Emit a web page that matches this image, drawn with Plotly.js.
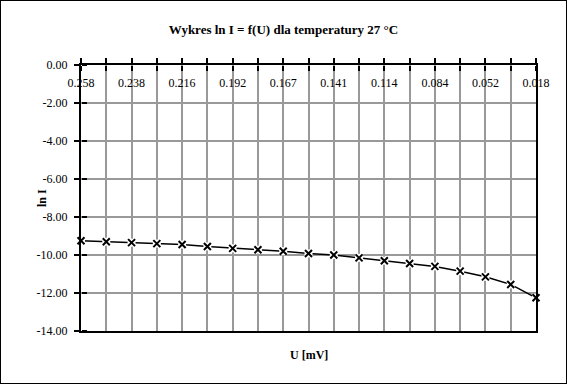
<!DOCTYPE html>
<html>
<head>
<meta charset="utf-8">
<script src="https://cdn.plot.ly/plotly-3.0.1.min.js"></script>
<style>
  html, body { margin: 0; padding: 0; background: #fff; }
  #chart { width: 565px; height: 382px; border: 1px solid #000; }
</style>
</head>
<body>
<div id="chart"></div>
<script>
// U [mV] categories (every other one is labeled in the reference)
const U = ['0.258','0.248','0.238','0.227','0.216','0.204','0.192','0.180','0.167','0.154',
           '0.141','0.128','0.114','0.099','0.084','0.068','0.052','0.035','0.018'];
// ln I values
const lnI = [-9.25,-9.30,-9.35,-9.40,-9.45,-9.55,-9.65,-9.72,-9.80,-9.92,
             -10.00,-10.15,-10.30,-10.45,-10.60,-10.85,-11.15,-11.55,-12.25];
// tick labels shown on the category axis
const xTickText = ['0.258','','0.238','','0.216','','0.192','','0.167','',
                   '0.141','','0.114','','0.084','','0.052','','0.018'];
const yTickVals = [0,-2,-4,-6,-8,-10,-12,-14];
const yTickText = ['0.00','-2.00','-4.00','-6.00','-8.00','-10.00','-12.00','-14.00'];

const FONT = 'Liberation Serif, Times New Roman, serif';
const GRID = '#999999';

const traces = [
  { x: U, y: lnI, type: 'scatter', mode: 'lines+markers', xaxis: 'x', yaxis: 'y',
    line: { color: '#000', width: 1.5 },
    marker: { symbol: 'square', size: 8, color: '#fff', line: { width: 0 } },
    cliponaxis: false, hoverinfo: 'skip', showlegend: false },
  { x: U, y: lnI, type: 'scatter', mode: 'markers', xaxis: 'x', yaxis: 'y',
    marker: { symbol: 'x-thin', size: 7, color: '#000', line: { color: '#000', width: 2 } },
    cliponaxis: false, hoverinfo: 'skip', showlegend: false },
  // carrier trace for the overlay axes (the inner halves of the crossing ticks)
  { x: U, y: lnI, type: 'scatter', mode: 'markers', xaxis: 'x2', yaxis: 'y2',
    marker: { opacity: 0, size: 1 }, hoverinfo: 'skip', showlegend: false }
];

const layout = {
  width: 565, height: 382,
  margin: { l: 80, r: 30, t: 64, b: 52, pad: 0 },
  paper_bgcolor: '#fff', plot_bgcolor: '#fff',
  font: { family: FONT, color: '#000', size: 12 },
  title: { text: '<b>Wykres ln I = f(U) dla temperatury 27 °C</b>',
           font: { family: FONT, size: 13, color: '#000' },
           x: 0.5, xref: 'container', xanchor: 'center',
           y: 1 - 28/382, yref: 'container', yanchor: 'middle' },
  xaxis: {
    type: 'category', categoryarray: U, categoryorder: 'array', range: [0, 18],
    side: 'top', anchor: 'y',
    showline: true, linecolor: '#000', linewidth: 2, mirror: true,
    ticks: 'outside', ticklen: 5, tickwidth: 2, tickcolor: '#000',
    tickmode: 'array', tickvals: U, showticklabels: false,
    showgrid: true, gridcolor: GRID, gridwidth: 2, zeroline: false, fixedrange: true
  },
  xaxis2: {
    type: 'category', categoryarray: U, categoryorder: 'array', range: [0, 18],
    overlaying: 'x', anchor: 'free', position: 1, side: 'bottom',
    showline: false, showgrid: false, zeroline: false,
    ticks: 'outside', ticklen: 5, tickwidth: 2, tickcolor: '#000',
    tickmode: 'array', tickvals: U, ticktext: xTickText, showticklabels: true,
    ticklabelstandoff: 2,
    tickfont: { family: FONT, size: 12, color: '#000' }
  },
  yaxis: {
    range: [-14, 0], anchor: 'x',
    showline: true, linecolor: '#000', linewidth: 2, mirror: true,
    ticks: 'outside', ticklen: 5, tickwidth: 2, tickcolor: '#000',
    tickmode: 'array', tickvals: yTickVals, ticktext: yTickText,
    tickfont: { family: FONT, size: 12, color: '#000' },
    ticklabelstandoff: 4,
    showgrid: true, gridcolor: GRID, gridwidth: 2, zeroline: false,
    automargin: false
  },
  yaxis2: {
    range: [-14, 0], overlaying: 'y', anchor: 'free', position: 0, side: 'right',
    showline: false, showgrid: false, zeroline: false, showticklabels: false,
    ticks: 'outside', ticklen: 5, tickwidth: 2, tickcolor: '#000',
    tickmode: 'array', tickvals: yTickVals
  },
  annotations: [
    { text: '<b>U [mV]</b>', xref: 'paper', yref: 'paper', x: 0.5, y: -24/266,
      xanchor: 'center', yanchor: 'middle', showarrow: false,
      font: { family: FONT, size: 12, color: '#000' } },
    { text: '<b>ln I</b>', xref: 'paper', yref: 'paper', x: -39/455, y: 0.5,
      xanchor: 'center', yanchor: 'middle', textangle: -90, showarrow: false,
      font: { family: FONT, size: 12, color: '#000' } }
  ]
};

Plotly.newPlot('chart', traces, layout, { displayModeBar: false, staticPlot: true });
</script>
</body>
</html>
